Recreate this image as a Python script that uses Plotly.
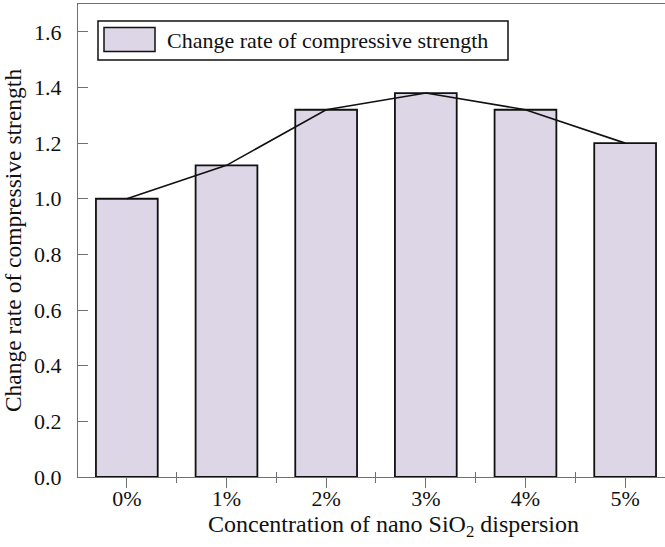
import plotly.graph_objects as go

categories = ["0%", "1%", "2%", "3%", "4%", "5%"]
change_rate = [1.00, 1.12, 1.32, 1.38, 1.32, 1.20]
y_ticks = [0.0, 0.2, 0.4, 0.6, 0.8, 1.0, 1.2, 1.4, 1.6]
legend_label = "Change rate of compressive strength"
x_title = "Concentration of nano SiO<sub>2</sub> dispersion"
y_title = "Change rate of compressive strength"

xs = list(range(len(categories)))
boundaries = [i + 0.5 for i in xs[:-1]]

FONT = "Liberation Serif, Times New Roman, serif"
AX = "#707070"
FILL = "#DCD6E6"

W, H = 665, 547
L, R, T, B = 78, 0, 4, 70
pw, ph = W - L - R, H - T - B


def px(x):
    return (x - L) / pw


def py(y):
    return (H - B - y) / ph


fig = go.Figure()
fig.add_trace(go.Bar(
    x=xs, y=change_rate, width=0.62,
    marker=dict(color=FILL, line=dict(color="#111111", width=1.8)),
    showlegend=False, hoverinfo="y",
))
fig.add_trace(go.Scatter(
    x=xs, y=change_rate, mode="lines",
    line=dict(color="#111111", width=1.6),
    showlegend=False, hoverinfo="skip",
))
for ax in ("x2", "x3", "x4"):
    fig.add_trace(go.Scatter(x=[], y=[], xaxis=ax, showlegend=False))

xrange = [-0.49, 5.4]
overlay = dict(range=xrange, overlaying="x", anchor="y", side="bottom",
               tickmode="array", tickcolor=AX, tickwidth=1,
               showticklabels=False, showline=False, showgrid=False,
               zeroline=False, automargin=False)

fig.update_layout(
    width=W, height=H,
    margin=dict(l=L, r=R, t=T, b=B, autoexpand=False),
    paper_bgcolor="white", plot_bgcolor="white",
    font=dict(family=FONT, size=22, color="#111111"),
    xaxis=dict(
        range=xrange, tickmode="array", tickvals=xs, ticktext=categories,
        ticks="", ticklabelstandoff=2,
        showline=True, linecolor=AX, linewidth=1, mirror=True,
        showgrid=False, zeroline=False, automargin=False,
        tickfont=dict(size=22),
    ),
    xaxis2=dict(overlay, tickvals=xs, ticks="outside", ticklen=10),
    xaxis3=dict(overlay, tickvals=boundaries, ticks="inside", ticklen=5),
    xaxis4=dict(overlay, tickvals=boundaries, ticks="outside", ticklen=5),
    yaxis=dict(
        range=[0, 1.7], tickmode="array", tickvals=y_ticks,
        ticktext=[f"{v:.1f}" for v in y_ticks],
        ticks="inside", ticklen=10, tickcolor=AX, tickwidth=1,
        ticklabelstandoff=11,
        showline=True, linecolor=AX, linewidth=1,
        showgrid=False, zeroline=False, automargin=False,
        title=dict(text=y_title, standoff=8, font=dict(size=23.5)),
        tickfont=dict(size=22),
    ),
    shapes=[
        dict(type="rect", xref="paper", yref="paper",
             x0=px(98), x1=px(508), y0=py(60), y1=py(21),
             line=dict(color="#111111", width=1.5), fillcolor="white"),
        dict(type="rect", xref="paper", yref="paper",
             x0=px(104), x1=px(155), y0=py(51.5), y1=py(27.5),
             line=dict(color="#111111", width=1.5), fillcolor=FILL),
    ],
    annotations=[
        dict(text=legend_label, xref="paper", yref="paper",
             x=px(165), y=py(40.5), xanchor="left", yanchor="middle",
             showarrow=False, font=dict(size=22, family=FONT)),
        dict(text=x_title, xref="paper", yref="paper",
             x=px(393), y=py(526), xanchor="center", yanchor="middle",
             showarrow=False, font=dict(size=24, family=FONT)),
    ],
)

fig.write_html("out.html", config={"displayModeBar": False},
               post_script="document.body.style.margin='0';document.body.style.overflow='hidden';")
